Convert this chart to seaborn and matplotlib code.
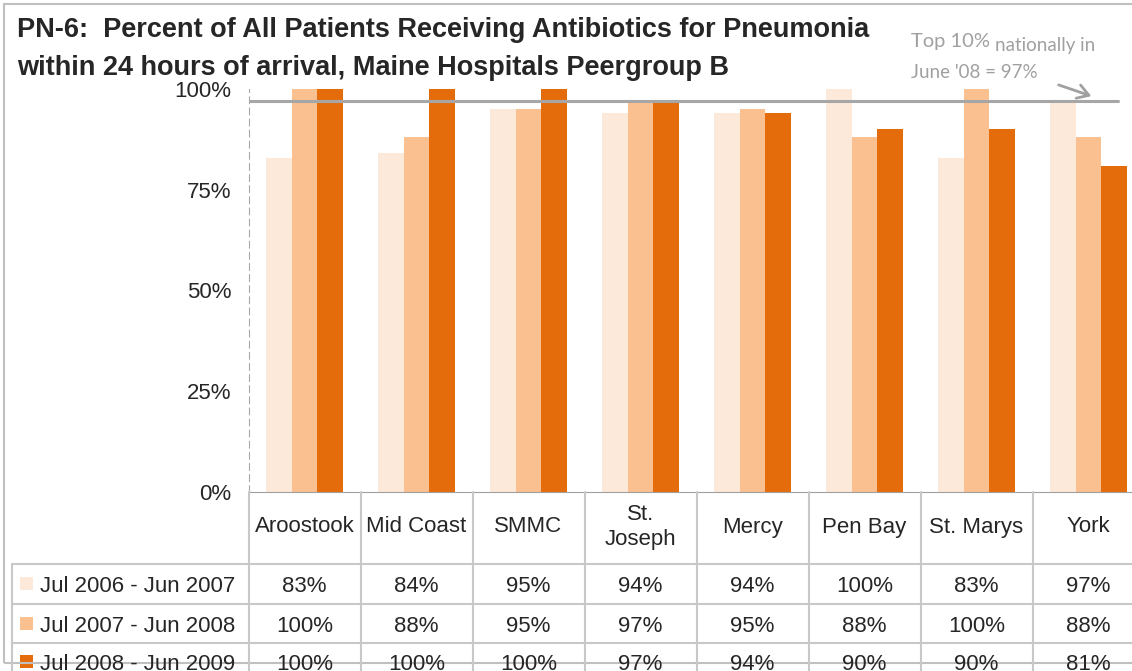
"""
PN-6 chart: percent of pneumonia patients receiving antibiotics within 24 hours,
Maine Hospitals Peergroup B, with the data table drawn under the bars.
"""

import numpy as np
import pandas as pd
import matplotlib.pyplot as plt
import seaborn as sns
from matplotlib.transforms import blended_transform_factory
from matplotlib.patches import Rectangle, FancyArrowPatch
from matplotlib.lines import Line2D

# Data
hospitals = ["Aroostook", "Mid Coast", "SMMC", "St.\nJoseph", "Mercy", "Pen Bay", "St. Marys", "York"]
periods = ["Jul 2006 - Jun 2007", "Jul 2007 - Jun 2008", "Jul 2008 - Jun 2009"]
pct_2007 = [83, 84, 95, 94, 94, 100, 83, 97]
pct_2008 = [100, 88, 95, 97, 95, 88, 100, 88]
pct_2009 = [100, 100, 100, 97, 94, 90, 90, 81]
benchmark = 97
y_ticks = [0, 25, 50, 75, 100]
y_tick_labels = ["0%", "25%", "50%", "75%", "100%"]

colors = ["#FDE9D9", "#FAC090", "#E46C0A"]
grid_color = "#C8C8C8"
note_color = "#A0A0A0"

series = [pct_2007, pct_2008, pct_2009]
df = pd.DataFrame({
    "hospital": hospitals * len(periods),
    "period": np.repeat(periods, len(hospitals)),
    "value": np.concatenate(series),
})

sns.set_style("white")
plt.rcParams["font.family"] = ["Liberation Sans", "DejaVu Sans"]

# Figure laid out in pixels
W, H = 1132, 671
px_group = 112.0
ax_left, ax_top, ax_bottom = 248.5, 89, 492
text_size = 16

fig = plt.figure(figsize=(W / 100, H / 100), dpi=100)
ax = fig.add_axes([ax_left / W, 1 - ax_bottom / H, (W - ax_left) / W, (ax_bottom - ax_top) / H])

sns.barplot(data=df, x="hospital", y="value", hue="period", palette=colors,
            saturation=1, width=0.68, gap=0, legend=False, linewidth=0,
            edgecolor="none", ax=ax)

ax.set_xlim(-0.5, -0.5 + (W - ax_left) / px_group)
ax.set_ylim(0, 100)
ax.set_yticks(y_ticks)
ax.set_yticklabels(y_tick_labels)
ax.set_xticks([])
ax.set_xlabel("")
ax.set_ylabel("")
ax.tick_params(axis="y", length=4.5, width=1, color="#A0A0A0", labelsize=text_size, pad=8)

for side in ["top", "right"]:
    ax.spines[side].set_visible(False)
ax.spines["bottom"].set_color("#A0A0A0")
ax.spines["left"].set_color("#A8A8A8")
ax.spines["left"].set_linestyle((0, (6, 4)))

# Top 10% benchmark line
ax.axhline(benchmark, xmin=0, xmax=(1118 - ax_left) / (W - ax_left), color="#A6A6A6", lw=2.2)

# Titles / annotation in pixel positions
def fx(x):
    return x / W

def fy(y):
    return 1 - y / H

fig.text(fx(17), fy(30), "PN-6:  Percent of All Patients Receiving Antibiotics for Pneumonia",
         fontsize=19.5, fontweight="bold", va="center", ha="left")
fig.text(fx(17), fy(68), "within 24 hours of arrival, Maine Hospitals Peergroup B",
         fontsize=19.5, fontweight="bold", va="center", ha="left")

note_font = ["Lato", "DejaVu Sans"]
fig.text(fx(911), fy(42), "Top 10%", fontsize=14.5, color=note_color, va="center", family=note_font)
fig.text(fx(995), fy(45), "nationally in", fontsize=13.5, color=note_color, va="center", family=note_font)
fig.text(fx(911), fy(72), "June '08 = 97%", fontsize=13.5, color=note_color, va="center", family=note_font)
fig.add_artist(FancyArrowPatch(
    (fx(1056), fy(84)), (fx(1094), fy(97)), transform=fig.transFigure,
    arrowstyle="->,head_length=8,head_width=5", color=note_color, lw=2))

# Data table under the chart
trans = blended_transform_factory(ax.transData, fig.transFigure)
row_lines = [564, 604, 643]
row_baselines = [592, 631.5, 670]
header_center = 527
n = len(hospitals)

for i in range(n + 1):
    fig.add_artist(Line2D([i - 0.5, i - 0.5], [fy(ax_bottom), fy(H + 5)], transform=trans,
                          color=grid_color, lw=1.5))
fig.add_artist(Line2D([fx(12), fx(12)], [fy(row_lines[0]), fy(H + 5)],
                      transform=fig.transFigure, color=grid_color, lw=1.5))
for y in row_lines:
    fig.add_artist(Line2D([fx(12), fx(W + 5)], [fy(y), fy(y)],
                          transform=fig.transFigure, color=grid_color, lw=1.5))

for i, name in enumerate(hospitals):
    fig.text(i, fy(header_center), name, transform=trans, ha="center", va="center",
             fontsize=text_size, linespacing=1.3)

for r, (label, values) in enumerate(zip(periods, series)):
    yb = row_baselines[r]
    fig.add_artist(Rectangle((fx(20), fy(yb - 2)), 12.5 / W, 13 / H,
                             transform=fig.transFigure, color=colors[r], lw=0))
    fig.text(fx(40), fy(yb), label, ha="left", va="baseline", fontsize=text_size)
    for i, v in enumerate(values):
        fig.text(i, fy(yb), f"{v}%", transform=trans, ha="center", va="baseline", fontsize=text_size)

# Outer chart border
fig.add_artist(Rectangle((fx(4), fy(663)), (W + 20) / W, (663 - 4) / H,
                         transform=fig.transFigure, fill=False, edgecolor="#C0C0C0", lw=1.5))

fig.savefig("out.png", dpi=100)
